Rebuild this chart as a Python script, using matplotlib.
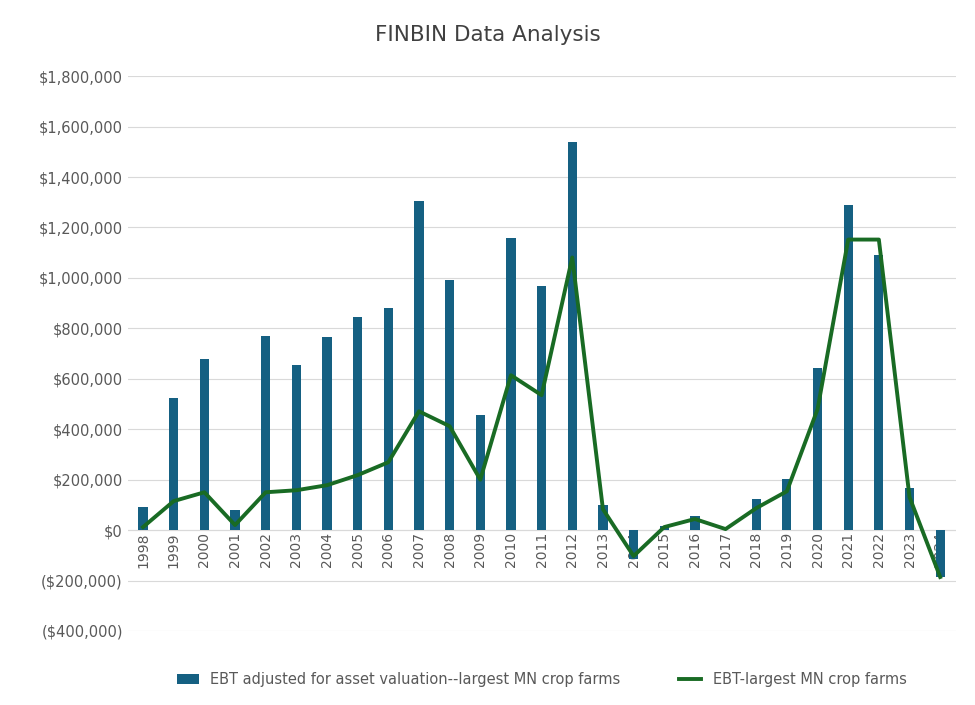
import matplotlib
matplotlib.use("Agg")
import matplotlib.pyplot as plt
import numpy as np
from matplotlib.ticker import FuncFormatter

years = [str(y) for y in range(1998, 2025)]
ebt_adj = [91e3,523e3,677e3,80e3,768e3,653e3,764e3,843e3,879e3,1303e3,990e3,455e3,1160e3,966e3,1540e3,
           99e3,-115e3,15e3,55e3,2e3,123e3,202e3,641e3,1291e3,1089e3,166e3,-186e3]
ebt = [12e3,115e3,150e3,20e3,150e3,158e3,178e3,218e3,269e3,471e3,412e3,200e3,614e3,535e3,1081e3,
       83e3,-103e3,12e3,44e3,4e3,87e3,154e3,479e3,1152e3,1152e3,131e3,-186e3]

fig = plt.figure(figsize=(9.75,7.05), dpi=100)
ax = fig.add_axes([0.131, 0.105, 0.849, 0.787])
x = np.arange(len(years))
b = ax.bar(x, ebt_adj, width=0.3, color='#156082', zorder=2)
l, = ax.plot(x, ebt, color='#196B24', lw=2.8, zorder=3)
ax.set_ylim(-400000, 1800000)
ax.set_xlim(-0.5, len(years)-0.5)
ax.set_yticks(np.arange(-400000, 1800001, 200000))
ax.yaxis.set_major_formatter(FuncFormatter(lambda v,p: f"${v:,.0f}" if v>=0 else f"(${-v:,.0f})"))
ax.grid(axis='y', color='#d9d9d9', lw=0.8, zorder=0)
for s in ax.spines.values(): s.set_visible(False)
ax.tick_params(length=0, labelsize=10.5, colors='#595959')
ax.axhline(0, color='#d9d9d9', lw=0.8, zorder=1)
ax.set_xticks([])
for i, y in enumerate(years):
    ax.text(i, -8000, y, rotation=90, ha='center', va='top', fontsize=10, color='#595959', zorder=1)
fig.text(0.5, 0.95, 'FINBIN Data Analysis', ha='center', va='center', fontsize=15.5, color='#404040')
ax.legend([b, l], ['EBT adjusted for asset valuation--largest MN crop farms', 'EBT-largest MN crop farms'],
          loc='upper center', bbox_to_anchor=(0.5, -0.05), ncol=2, frameon=False,
          fontsize=10.5, labelcolor='#595959', columnspacing=4, handlelength=1.5)
fig.savefig('out.png', dpi=100)
